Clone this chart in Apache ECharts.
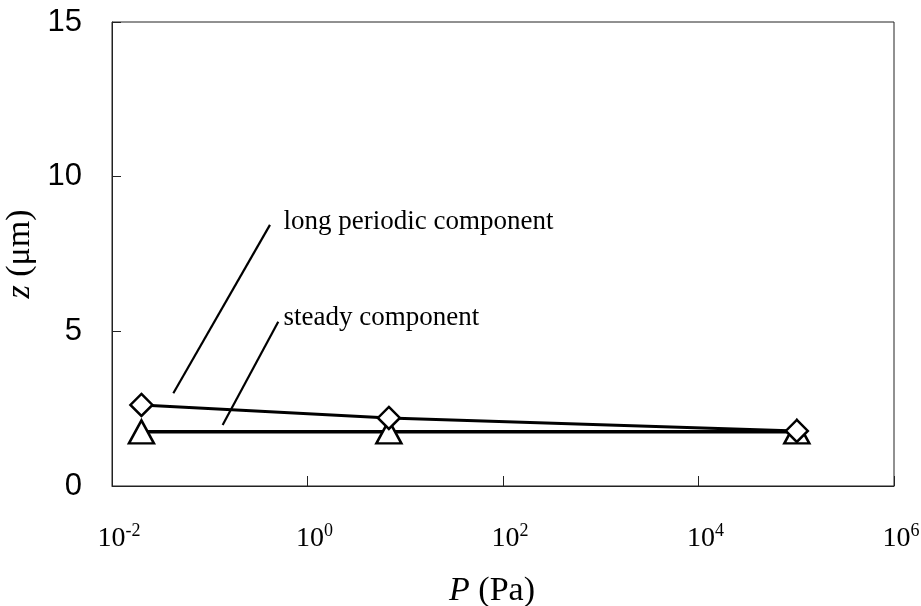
<!DOCTYPE html>
<html>
<head>
<meta charset="utf-8">
<script src="https://cdn.jsdelivr.net/npm/echarts@6/dist/echarts.min.js"></script>
<style>html,body{margin:0;padding:0;background:#fff;}#c{width:921px;height:606px;}</style>
</head>
<body>
<div id="c"></div>
<script>
// Data
const pressures = [0.02, 6.8, 101325];
const longPeriodic = [2.62, 2.2, 1.78];
const steady = [1.75, 1.75, 1.75];
const xTickExps = [-2, 0, 2, 4, 6];
const yTicks = [0, 5, 10, 15];
// annotation leader lines (data coordinates)
const longLeader = [[0.0424, 3.0], [0.413, 8.44]];
const steadyLeader = [[0.1355, 1.97], [0.502, 5.31]];
const longLabelPos = [0.561, 8.54];
const steadyLabelPos = [0.561, 5.43];

const chart = echarts.init(document.getElementById('c'));
const serif = '"Liberation Serif", "Times New Roman", serif';
const sans = '"Liberation Sans", Arial, sans-serif';

function pairs(xs, ys) { return xs.map((x, i) => [x, ys[i]]); }

chart.setOption({
  animation: false,
  backgroundColor: '#fff',
  grid: { left: 112, right: 27, top: 22, bottom: 120, show: true, borderColor: '#222', borderWidth: 1, containLabel: false, outerBoundsMode: 'none' },
  xAxis: {
    type: 'log', logBase: 10, min: Math.pow(10, xTickExps[0]), max: Math.pow(10, xTickExps[xTickExps.length - 1]),
    interval: 2,
    name: '{i|P} (Pa)', nameLocation: 'middle', nameGap: 88,
    nameTextStyle: { fontFamily: serif, fontSize: 34, color: '#000', padding: [0, 22, 0, 0], rich: { i: { fontFamily: serif, fontStyle: 'italic', fontSize: 34, color: '#000' } } },
    axisLine: { lineStyle: { color: '#222', width: 1 } },
    axisTick: { inside: true, length: 10, lineStyle: { color: '#222' } },
    minorTick: { show: false },
    splitLine: { show: false },
    axisLabel: {
      margin: 36, color: '#000', fontFamily: serif, fontSize: 28,
      padding: [0, 0, 0, 14],
      formatter: function (v) { const e = Math.round(Math.log10(v)); return '10{s|' + e + '}'; },
      rich: { s: { fontFamily: serif, fontSize: 18, verticalAlign: 'top', padding: [0, 0, 16, 0], color: '#000' } }
    }
  },
  yAxis: {
    type: 'value', min: yTicks[0], max: yTicks[yTicks.length - 1], interval: 5,
    name: '{i|z} (μm)', nameLocation: 'middle', nameGap: 70, nameRotate: 90,
    nameTextStyle: { fontFamily: serif, fontSize: 34, color: '#000', rich: { i: { fontFamily: serif, fontStyle: 'italic', fontSize: 34, color: '#000' } } },
    axisLine: { show: true, lineStyle: { color: '#222', width: 1 } },
    axisTick: { show: true, inside: true, length: 9, lineStyle: { color: '#222' } },
    splitLine: { show: false },
    axisLabel: { margin: 30, color: '#000', fontFamily: sans, fontSize: 31 }
  },
  series: [
    {
      name: 'long periodic component', type: 'line', data: pairs(pressures, longPeriodic),
      symbol: 'diamond', symbolSize: [22, 22],
      lineStyle: { color: '#000', width: 3 },
      itemStyle: { color: '#fff', borderColor: '#000', borderWidth: 2.5 },
      z: 3,
      markLine: {
        silent: true, symbol: ['none', 'none'],
        lineStyle: { color: '#000', width: 2.2, type: 'solid' },
        label: { show: false },
        data: [
          [{ coord: longLeader[0] }, { coord: longLeader[1] }],
          [{ coord: steadyLeader[0] }, { coord: steadyLeader[1] }]
        ]
      },
      markPoint: {
        silent: true, symbol: 'circle', symbolSize: 1, itemStyle: { color: 'rgba(0,0,0,0)' },
        label: { show: true, position: 'right', distance: 0, color: '#000', fontFamily: serif, fontSize: 27 },
        data: [
          { coord: longLabelPos, label: { formatter: 'long periodic component' } },
          { coord: steadyLabelPos, label: { formatter: 'steady component' } }
        ]
      }
    },
    {
      name: 'steady component', type: 'line', data: pairs(pressures, steady),
      symbol: 'triangle', symbolSize: [25, 23],
      lineStyle: { color: '#000', width: 3.5 },
      itemStyle: { color: '#fff', borderColor: '#000', borderWidth: 2.5 },
      z: 2
    }
  ]
});
</script>
</body>
</html>
